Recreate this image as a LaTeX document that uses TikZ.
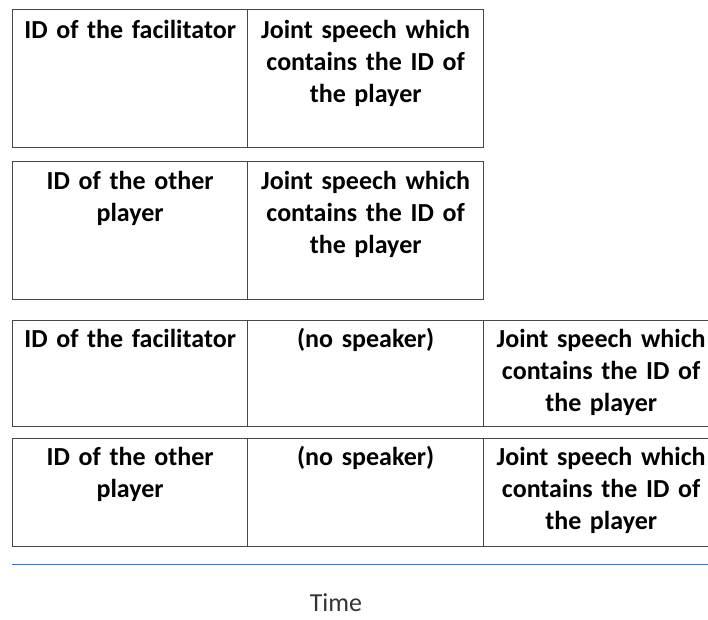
\documentclass[tikz,border=0pt]{standalone}
\usepackage{fontspec}
\setmainfont{Carlito}
\usepackage{tikz}
\usetikzlibrary{positioning}
\usetikzlibrary{calc}
\colorlet{boxcol}{black!72}
\definecolor{timecol}{HTML}{4472C4}
\tikzset{
  cell/.style={draw=boxcol, line width=1.3pt, anchor=north west, inner sep=0pt},
  celltext/.style={anchor=base, inner sep=0pt, text width=226pt, align=center,
    font=\bfseries\fontsize{26}{32}\selectfont},
}

\begin{document}
\begin{tikzpicture}[x=1pt, y=-1pt]

\useasboundingbox (0,0) rectangle (708,619);
\clip (0,0) rectangle (708,619);

% ---------- Row 1 ----------
\node[cell, minimum width=235pt, minimum height=138pt] (r1a) at (12,9) {};
\node[cell, minimum width=236pt, minimum height=138pt] (r1b) at (247,9) {};
\node[celltext] (t1a) at ($(r1a.north)+(0,29)$) {ID of the facilitator};
\node[celltext] (t1b) at ($(r1b.north)+(0,29)$) {Joint speech which\\contains the ID of\\the player};

% ---------- Row 2 ----------
\node[cell, minimum width=235pt, minimum height=138pt] (r2a) at (12,160.5) {};
\node[cell, minimum width=236pt, minimum height=138pt] (r2b) at (247,160.5) {};
\node[celltext] (t2a) at ($(r2a.north)+(0,29)$) {ID of the other\\player};
\node[celltext] (t2b) at ($(r2b.north)+(0,29)$) {Joint speech which\\contains the ID of\\the player};

% ---------- Row 3 ----------
\node[cell, minimum width=235pt, minimum height=106pt] (r3a) at (12,319.5) {};
\node[cell, minimum width=236pt, minimum height=106pt] (r3b) at (247,319.5) {};
\node[cell, minimum width=235pt, minimum height=106pt] (r3c) at (483,319.5) {};
\node[celltext] (t3a) at ($(r3a.north)+(0,28)$) {ID of the facilitator};
\node[celltext] (t3b) at ($(r3b.north)+(0,28)$) {(no speaker)};
\node[celltext] (t3c) at ($(r3c.north)+(0,28)$) {Joint speech which\\contains the ID of\\the player};

% ---------- Row 4 ----------
\node[cell, minimum width=235pt, minimum height=108pt] (r4a) at (12,437.5) {};
\node[cell, minimum width=236pt, minimum height=108pt] (r4b) at (247,437.5) {};
\node[cell, minimum width=235pt, minimum height=108pt] (r4c) at (483,437.5) {};
\node[celltext] (t4a) at ($(r4a.north)+(0,28)$) {ID of the other\\player};
\node[celltext] (t4b) at ($(r4b.north)+(0,28)$) {(no speaker)};
\node[celltext] (t4c) at ($(r4c.north)+(0,28)$) {Joint speech which\\contains the ID of\\the player};

% ---------- Time axis ----------
\coordinate (axs) at (12,564.5);
\coordinate (axe) at (708,564.5);
\draw[timecol, line width=1.3pt] (axs) -- (axe);
\node[anchor=base, inner sep=0pt, text=black!80, font=\fontsize{26}{30}\selectfont] (time) at (336,611) {Time};

\end{tikzpicture}
\end{document}
